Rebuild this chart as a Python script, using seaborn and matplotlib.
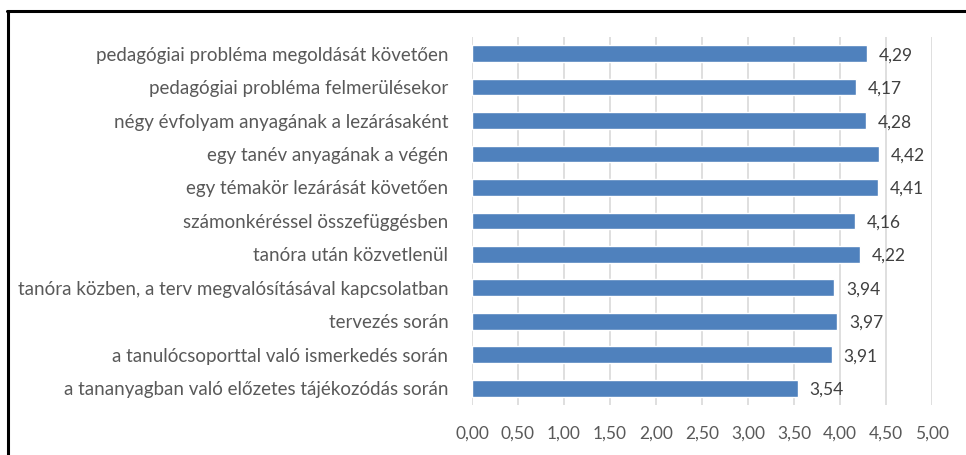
import matplotlib
matplotlib.use("Agg")
import matplotlib.pyplot as plt
import seaborn as sns
import pandas as pd
from matplotlib.lines import Line2D

categories = [
    "pedagógiai probléma megoldását követően",
    "pedagógiai probléma felmerülésekor",
    "négy évfolyam anyagának a lezárásaként",
    "egy tanév anyagának a végén",
    "egy témakör lezárását követően",
    "számonkéréssel összefüggésben",
    "tanóra után közvetlenül",
    "tanóra közben, a terv megvalósításával kapcsolatban",
    "tervezés során",
    "a tanulócsoporttal való ismerkedés során",
    "a tananyagban való előzetes tájékozódás során",
]
values = [4.29, 4.17, 4.28, 4.42, 4.41, 4.16, 4.22, 3.94, 3.97, 3.91, 3.54]
xticks = [0.0, 0.5, 1.0, 1.5, 2.0, 2.5, 3.0, 3.5, 4.0, 4.5, 5.0]

df = pd.DataFrame({"kategoria": categories, "ertek": values})

sns.set_theme(style="white")
plt.rcParams["font.family"] = ["Lato", "DejaVu Sans"]

fig = plt.figure(figsize=(9.66, 4.55), dpi=100)
ax = fig.add_axes([0.4886, 0.110, 0.4762, 0.809])

sns.barplot(data=df, x="ertek", y="kategoria", color="#4F81BD", width=0.5,
            saturation=1, ax=ax)

ax.set_xlim(0, 5)
ax.set_ylim(len(categories) - 0.5, -0.5)
ax.set_xticks(xticks)
ax.set_xticklabels([f"{t:.2f}".replace(".", ",") for t in xticks])
ax.set_xlabel("")
ax.set_ylabel("")
ax.grid(axis="x", color="#D9D9D9", linewidth=1.2)
ax.set_axisbelow(True)
for s in ax.spines.values():
    s.set_visible(False)
ax.tick_params(axis="x", length=0, labelsize=12.5, colors="#595959", pad=15)
ax.tick_params(axis="y", length=0, labelsize=13.5, colors="#595959", pad=17)

# value labels
for i, v in enumerate(values):
    ax.text(v + 0.13, i + 0.05, f"{v:.2f}".replace(".", ","), va="center",
            ha="left", fontsize=12.5, color="#404040")

# black frame at top and left
fig.add_artist(Line2D([0.0075, 1.0], [0.976, 0.976], color="black", lw=2.2,
                      transform=fig.transFigure))
fig.add_artist(Line2D([0.0085, 0.0085], [0.0, 0.976], color="black", lw=2.2,
                      transform=fig.transFigure))

fig.savefig("out.png", dpi=100)
